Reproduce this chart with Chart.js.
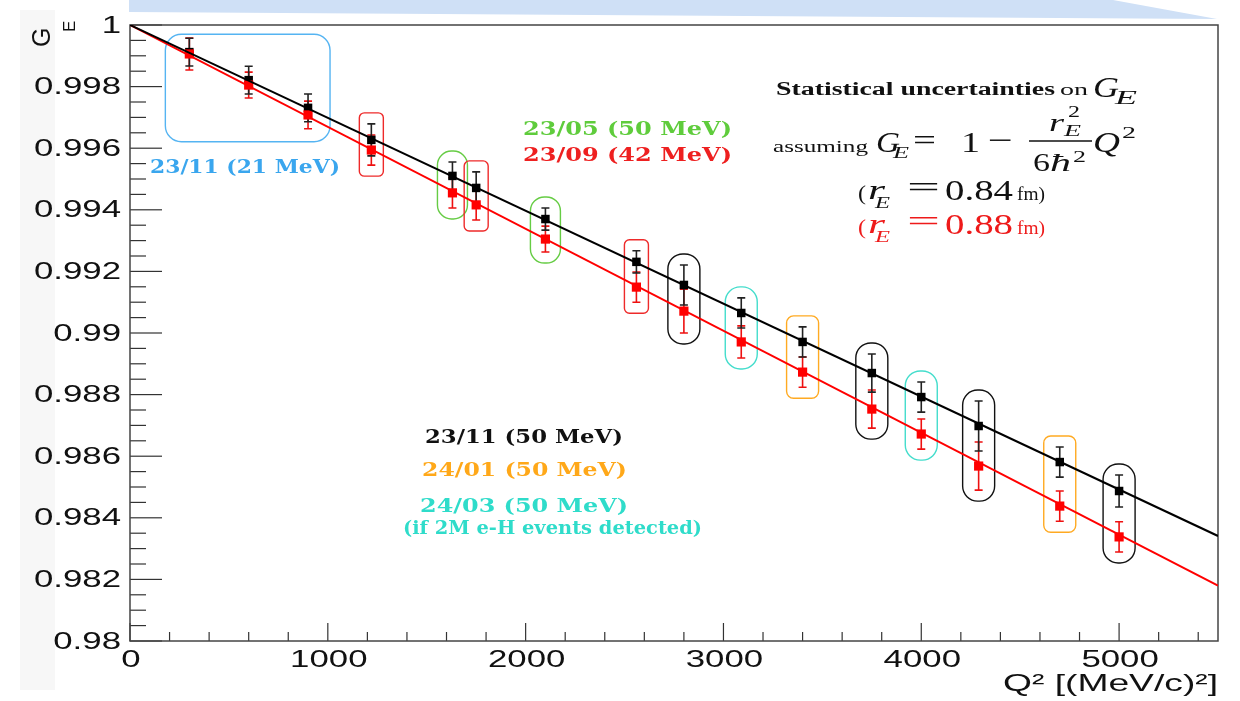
<!DOCTYPE html>
<html>
<head>
<meta charset="utf-8">
<title>G_E vs Q2</title>
<script src="https://cdn.jsdelivr.net/npm/chart.js@4.4.1/dist/chart.umd.min.js"></script>
<style>
  html, body { margin: 0; padding: 0; background: #fff; }
  #wrap { width: 1240px; height: 701px; }
</style>
</head>
<body>
<div id="wrap"><canvas id="ge" width="1240" height="701"></canvas></div>
<script>
// Q^2 of each measurement, (MeV/c)^2
const q2 = [300, 600, 900, 1220, 1630, 1750, 2100, 2560, 2800, 3090, 3400, 3750, 4000, 4290, 4700, 5000];

// r_E = 0.84 fm (black) and r_E = 0.88 fm (red)
const geBlack  = [0.99912, 0.99821, 0.99731, 0.99627, 0.99510, 0.99471, 0.99370, 0.99231, 0.99156, 0.99065, 0.98971, 0.98870, 0.98792, 0.98698, 0.98581, 0.98487];
const errBlack = [0.00045, 0.00045, 0.00045, 0.00052, 0.00045, 0.00052, 0.00036, 0.00036, 0.00065, 0.00049, 0.00049, 0.00062, 0.00049, 0.00081, 0.00049, 0.00052];
const geRed    = [0.99906, 0.99805, 0.99708, 0.99594, 0.99455, 0.99416, 0.99305, 0.99149, 0.99071, 0.98971, 0.98873, 0.98753, 0.98672, 0.98568, 0.98438, 0.98338];
const errRed   = [0.00052, 0.00042, 0.00045, 0.00049, 0.00049, 0.00049, 0.00042, 0.00049, 0.00071, 0.00052, 0.00049, 0.00062, 0.00049, 0.00078, 0.00049, 0.00049];

// which run each point belongs to
const runOf = ['2311a', '2311a', '2311a', '2309', '2305', '2309', '2305', '2309', '2311', '2403', '2401', '2311', '2403', '2311', '2401', '2311'];

// straight lines G_E = 1 - r^2 Q^2 / 6hbar^2
const fitQ2    = [0, 5500];
const fitBlack = [1, 0.98341];
const fitRed   = [1, 0.98180];

const yTicks = [0.98, 0.982, 0.984, 0.986, 0.988, 0.99, 0.992, 0.994, 0.996, 0.998, 1];
const yTickLabels = ['0.98', '0.982', '0.984', '0.986', '0.988', '0.99', '0.992', '0.994', '0.996', '0.998', '1'];
const xTicks = [0, 1000, 2000, 3000, 4000, 5000];
const xTickLabels = ['0', '1000', '2000', '3000', '4000', '5000'];

const boxStyle = {
  '2311': { color: '#111111', w: 32, r: 15 },
  '2309': { color: '#ee2a2a', w: 24, r: 5 },
  '2305': { color: '#66cc44', w: 30, r: 14 },
  '2401': { color: '#ffaa22', w: 32, r: 7 },
  '2403': { color: '#44ddcc', w: 32, r: 15 }
};

function fitText(ctx, str, left, right, y, font, color, baseline) {
  ctx.save();
  ctx.font = font;
  ctx.fillStyle = color;
  ctx.textAlign = 'left';
  ctx.textBaseline = baseline || 'alphabetic';
  const w = ctx.measureText(str).width;
  ctx.translate(left, y);
  ctx.scale((right - left) / w, 1);
  ctx.fillText(str, 0, 0);
  ctx.restore();
}

function wideText(ctx, str, x, y, font, color, align, sx) {
  ctx.save();
  ctx.font = font;
  ctx.fillStyle = color;
  ctx.textAlign = align;
  ctx.textBaseline = 'middle';
  ctx.translate(x, y);
  ctx.scale(sx, 1);
  ctx.fillText(str, 0, 0);
  ctx.restore();
}

const rootLook = {
  id: 'rootLook',
  beforeDraw(chart) {
    const ctx = chart.ctx;
    ctx.save();
    ctx.fillStyle = '#fff';
    ctx.fillRect(0, 0, chart.width, chart.height);
    ctx.fillStyle = '#f7f7f7';
    ctx.fillRect(20, 10, 35, 680);
    ctx.fillStyle = '#cfe0f6';
    ctx.beginPath();
    ctx.moveTo(129, 0);
    ctx.lineTo(1113, 0);
    ctx.lineTo(1217, 19);
    ctx.lineTo(900, 17);
    ctx.lineTo(129, 12);
    ctx.closePath();
    ctx.fill();
    ctx.restore();
  },
  beforeDatasetsDraw(chart) {
    const ctx = chart.ctx;
    const xs = chart.scales.x, ys = chart.scales.y;
    const a = chart.chartArea;
    ctx.save();

    // ticks inside the frame
    ctx.strokeStyle = '#333';
    ctx.lineWidth = 1.2;
    for (let k = 0; k <= 40; k++) {
      const py = ys.getPixelForValue(0.98 + k * 0.0005);
      const len = k % 4 === 0 ? 32 : 16;
      ctx.beginPath();
      ctx.moveTo(a.left, py);
      ctx.lineTo(a.left + len, py);
      ctx.stroke();
    }
    for (let k = 0; k <= 27; k++) {
      const px = xs.getPixelForValue(k * 200);
      const len = k % 5 === 0 ? 18 : 9;
      ctx.beginPath();
      ctx.moveTo(px, a.bottom);
      ctx.lineTo(px, a.bottom - len);
      ctx.stroke();
    }
    // frame
    ctx.strokeStyle = '#444';
    ctx.lineWidth = 1.5;
    ctx.strokeRect(a.left, a.top, a.right - a.left, a.bottom - a.top);

    // run boxes
    ctx.lineWidth = 1.4;
    const blue = q2.map((v, i) => i).filter(i => runOf[i] === '2311a');
    if (blue.length) {
      const l = xs.getPixelForValue(q2[blue[0]]) - 24;
      const r = xs.getPixelForValue(q2[blue[blue.length - 1]]) + 22;
      const t = Math.min(...blue.map(i => ys.getPixelForValue(geBlack[i] + errBlack[i]))) - 4;
      const b = Math.max(...blue.map(i => ys.getPixelForValue(geRed[i] - errRed[i]))) + 13;
      ctx.strokeStyle = '#55b4f2';
      ctx.beginPath();
      ctx.roundRect(l, t, r - l, b - t, 16);
      ctx.stroke();
    }
    q2.forEach((v, i) => {
      const st = boxStyle[runOf[i]];
      if (!st) return;
      const px = xs.getPixelForValue(v);
      const t = ys.getPixelForValue(geBlack[i] + errBlack[i]) - 11;
      const b = ys.getPixelForValue(geRed[i] - errRed[i]) + 11;
      ctx.strokeStyle = st.color;
      ctx.beginPath();
      ctx.roundRect(px - st.w / 2, t, st.w, b - t, st.r);
      ctx.stroke();
    });

    // error bars
    const bars = (vals, errs, color) => {
      ctx.strokeStyle = color;
      ctx.lineWidth = 1.6;
      q2.forEach((v, i) => {
        const px = xs.getPixelForValue(v);
        const hi = ys.getPixelForValue(vals[i] + errs[i]);
        const lo = ys.getPixelForValue(vals[i] - errs[i]);
        ctx.beginPath();
        ctx.moveTo(px, hi); ctx.lineTo(px, lo);
        ctx.moveTo(px - 4, hi); ctx.lineTo(px + 4, hi);
        ctx.moveTo(px - 4, lo); ctx.lineTo(px + 4, lo);
        ctx.stroke();
      });
    };
    bars(geRed, errRed, '#ee1010');
    bars(geBlack, errBlack, '#222');
    ctx.restore();
  },
  afterDraw(chart) {
    const ctx = chart.ctx;
    const xs = chart.scales.x, ys = chart.scales.y;
    const a = chart.chartArea;
    const sans = '"Liberation Sans", Arial, sans-serif';
    const serif = '"Liberation Serif", "Times New Roman", serif';
    const dserif = '"DejaVu Serif", Georgia, serif';

    // tick labels
    yTicks.forEach((v, i) => wideText(ctx, yTickLabels[i], a.left - 9, ys.getPixelForValue(v) + 1, '24px ' + sans, '#111', 'right', 1.45));
    xTicks.forEach((v, i) => wideText(ctx, xTickLabels[i], xs.getPixelForValue(v) + 1, a.bottom + 19, '24px ' + sans, '#111', 'center', 1.45));

    // axis titles
    fitText(ctx, 'Q\u00b2 [(MeV/c)\u00b2]', 1003, a.right, 684, '24px ' + sans, '#111', 'middle');
    ctx.save();
    ctx.fillStyle = '#111';
    ctx.translate(50, 47);
    ctx.rotate(-Math.PI / 2);
    ctx.font = '25px ' + sans;
    ctx.fillText('G', 0, 0);
    ctx.font = '17px ' + sans;
    ctx.fillText('E', 15, 25);
    ctx.restore();

    // run labels
    const runs = [
      ['23/11 (21 MeV)', 150, 340, 168, '#3aa6ee'],
      ['23/05 (50 MeV)', 523, 732, 130, '#5fcc3c'],
      ['23/09 (42 MeV)', 523, 732, 156, '#ee2020'],
      ['23/11 (50 MeV)', 425, 623, 438, '#111111'],
      ['24/01 (50 MeV)', 422, 627, 471, '#ffa819'],
      ['24/03 (50 MeV)', 420, 628, 507, '#2fdcca'],
      ['(if 2M e-H events detected)', 403, 702, 529, '#2fdcca']
    ];
    runs.forEach(r => fitText(ctx, r[0], r[1], r[2], r[3], 'bold 19px ' + dserif, r[4], 'middle'));

    // formula block
    const k = '#111';
    fitText(ctx, 'Statistical uncertainties', 776, 1055, 95, 'bold 18px ' + serif, k);
    fitText(ctx, 'on', 1060, 1088, 95, '17px ' + serif, k);
    fitText(ctx, 'G', 1093, 1119, 97, 'italic 30px ' + serif, k);
    fitText(ctx, 'E', 1115, 1137, 104, 'italic 18px ' + serif, k);

    fitText(ctx, 'assuming', 773, 868, 152, '17px ' + serif, k);
    fitText(ctx, 'G', 876, 900, 152, 'italic 30px ' + serif, k);
    fitText(ctx, 'E', 893, 909, 158, 'italic 17px ' + serif, k);
    fitText(ctx, '=', 913, 936, 150, '30px ' + serif, k);
    fitText(ctx, '1', 961, 980, 152, '30px ' + serif, k);
    fitText(ctx, '\u2212', 988, 1013, 150, '30px ' + serif, k);
    fitText(ctx, 'r', 1049, 1064, 131, 'italic 26px ' + serif, k);
    fitText(ctx, '2', 1068, 1080, 117, '16px ' + serif, k);
    fitText(ctx, 'E', 1064, 1081, 136, 'italic 16px ' + serif, k);
    ctx.save();
    ctx.strokeStyle = k;
    ctx.lineWidth = 1.5;
    ctx.beginPath();
    ctx.moveTo(1029, 141);
    ctx.lineTo(1092, 141);
    ctx.stroke();
    ctx.restore();
    fitText(ctx, '6', 1033, 1050, 171, '26px ' + serif, k);
    fitText(ctx, '\u0127', 1050, 1071, 171, 'italic 26px ' + serif, k);
    fitText(ctx, '2', 1073, 1086, 162, '16px ' + serif, k);
    fitText(ctx, 'Q', 1093, 1120, 152, 'italic 30px ' + serif, k);
    fitText(ctx, '2', 1122, 1136, 138, '16px ' + serif, k);

    const radius = (dy, val, col) => {
      fitText(ctx, '(', 858, 866, 200 + dy, '20px ' + serif, col);
      fitText(ctx, 'r', 868, 885, 199 + dy, 'italic 28px ' + serif, col);
      fitText(ctx, 'E', 875, 890, 208 + dy, 'italic 17px ' + serif, col);
      fitText(ctx, '=', 907, 940, 197 + dy, '30px ' + serif, col);
      fitText(ctx, val, 945, 1013, 200 + dy, '30px ' + serif, col);
      fitText(ctx, 'fm)', 1017, 1045, 200 + dy, '18px ' + serif, col);
    };
    radius(0, '0.84', k);
    radius(34, '0.88', '#ee1a1a');
  }
};

new Chart(document.getElementById('ge'), {
  type: 'scatter',
  data: {
    datasets: [
      {
        type: 'line',
        label: 'r_E = 0.84 fm',
        data: fitQ2.map((x, i) => ({ x, y: fitBlack[i] })),
        borderColor: '#000',
        borderWidth: 2,
        pointRadius: 0,
        fill: false
      },
      {
        type: 'line',
        label: 'r_E = 0.88 fm',
        data: fitQ2.map((x, i) => ({ x, y: fitRed[i] })),
        borderColor: '#ff0000',
        borderWidth: 2,
        pointRadius: 0,
        fill: false
      },
      {
        label: 'G_E (0.88 fm)',
        data: q2.map((x, i) => ({ x, y: geRed[i] })),
        pointStyle: 'rect',
        pointRadius: 6.5,
        backgroundColor: '#ff0000',
        borderColor: '#ff0000',
        borderWidth: 0
      },
      {
        label: 'G_E (0.84 fm)',
        data: q2.map((x, i) => ({ x, y: geBlack[i] })),
        pointStyle: 'rect',
        pointRadius: 6,
        backgroundColor: '#000',
        borderColor: '#000',
        borderWidth: 0
      }
    ]
  },
  options: {
    responsive: false,
    animation: false,
    layout: { padding: { left: 0, top: 25, right: 22, bottom: 0 } },
    plugins: { legend: { display: false }, tooltip: { enabled: false } },
    scales: {
      x: {
        type: 'linear',
        min: 0,
        max: 5500,
        grid: { display: false },
        border: { display: false },
        ticks: { display: false },
        afterFit: s => { s.height = 60; }
      },
      y: {
        type: 'linear',
        min: 0.98,
        max: 1,
        grid: { display: false },
        border: { display: false },
        ticks: { display: false },
        afterFit: s => { s.width = 130; }
      }
    }
  },
  plugins: [rootLook]
});
</script>
</body>
</html>
